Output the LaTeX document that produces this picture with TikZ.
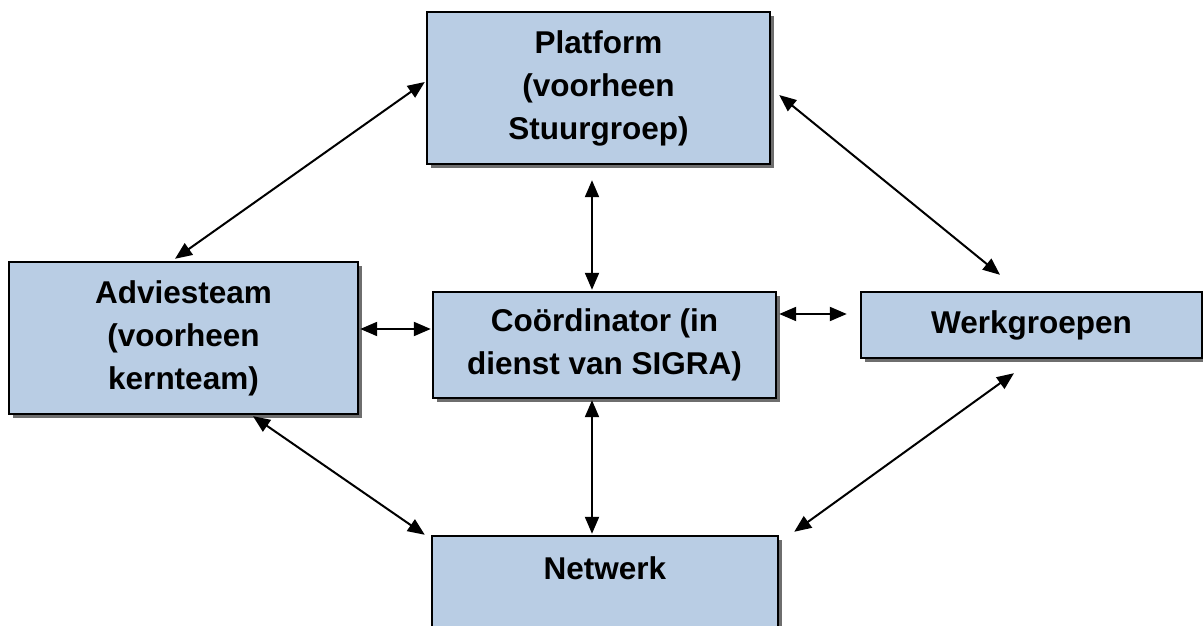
\documentclass[tikz,border=0pt]{standalone}
\usepackage{fontspec}
\setmainfont{Liberation Sans}
\usetikzlibrary{arrows.meta,shadows}
\definecolor{boxblue}{RGB}{185,205,228}
\definecolor{shadowgray}{RGB}{110,110,110}
\tikzset{
  box/.style={draw=black, line width=2.4pt, fill=boxblue, rectangle, inner sep=0pt,
    align=center, font=\fontsize{31.5pt}{43pt}\selectfont\bfseries,
    drop shadow={shadow xshift=4pt, shadow yshift=-4pt, fill=shadowgray, opacity=1}},
  link/.style={line width=2pt, {Triangle[length=17pt,width=14pt]}-{Triangle[length=17pt,width=14pt]}}
}
\begin{document}
\begin{tikzpicture}[x=1pt,y=1pt]
\useasboundingbox (0,0) rectangle (1203,626);
\clip (0,0) rectangle (1203,626);
\node[box, minimum width=343pt, minimum height=152pt] (plat) at (598.5,538) {Platform\\(voorheen\\Stuurgroep)};
\node[box, minimum width=349pt, minimum height=152pt] (adv) at (183.5,288) {Adviesteam\\(voorheen\\kernteam)};
\node[box, minimum width=343pt, minimum height=106pt] (coord) at (604.5,281) {Coördinator (in\\dienst van SIGRA)};
\node[box, minimum width=341pt, minimum height=66pt] (werk) at (1031.5,301) {Werkgroepen};
\node[box, minimum width=346pt, minimum height=108pt] (net) at (605,36) {Netwerk\\~};
\draw[link] ([xshift=-1pt,yshift=6pt]plat.west) -- ([xshift=-8.5pt,yshift=2pt]adv.north);
\draw[link] ([xshift=8pt,yshift=-7pt]plat.east) -- ([xshift=-31.5pt,yshift=16pt]werk.north);
\draw[link] ([xshift=-6.5pt,yshift=-15pt]plat.south) -- ([xshift=-12.5pt,yshift=1pt]coord.north);
\draw[link] ([xshift=1pt,yshift=9pt]adv.east) -- ([xshift=-1pt,yshift=16pt]coord.west);
\draw[link] ([xshift=2pt,yshift=31pt]coord.east) -- ([xshift=-13pt,yshift=11pt]werk.west);
\draw[link] ([xshift=-12.5pt,yshift=-1pt]coord.south) -- ([xshift=-13pt,yshift=1pt]net.north);
\draw[link] ([xshift=69.5pt,yshift=-1pt]adv.south) -- ([xshift=-6pt]net.north west);
\draw[link] ([xshift=-17.5pt,yshift=-14pt]werk.south) -- ([xshift=15pt,yshift=3pt]net.north east);
\end{tikzpicture}
\end{document}
